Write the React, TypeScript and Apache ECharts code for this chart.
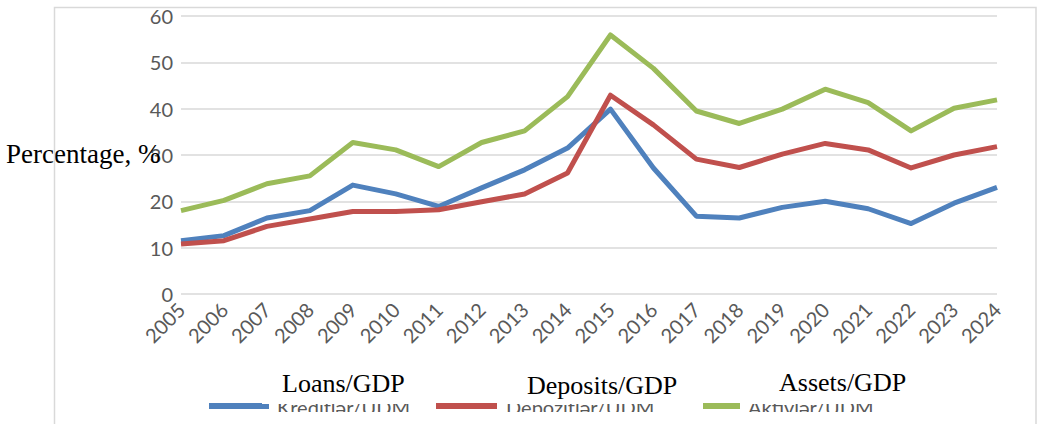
import React, { useEffect, useRef } from "react";
import * as echarts from "echarts";

const years = [
  "2005", "2006", "2007", "2008", "2009", "2010", "2011", "2012", "2013", "2014",
  "2015", "2016", "2017", "2018", "2019", "2020", "2021", "2022", "2023", "2024",
];
const loans = [11.5, 12.6, 16.4, 18.0, 23.5, 21.6, 18.9, 22.9, 26.8, 31.5, 39.9, 27.2, 16.8, 16.4, 18.7, 20.0, 18.4, 15.2, 19.6, 23.0];
const deposits = [10.8, 11.5, 14.6, 16.2, 17.8, 17.8, 18.2, 19.9, 21.6, 26.1, 42.9, 36.5, 29.1, 27.3, 30.2, 32.5, 31.1, 27.2, 30.0, 31.8];
const assets = [18.0, 20.2, 23.8, 25.5, 32.7, 31.1, 27.5, 32.7, 35.2, 42.6, 55.9, 48.7, 39.5, 36.8, 39.9, 44.2, 41.3, 35.2, 40.1, 41.9];

const seriesNames = ["Kreditlər/ÜDM", "Depozitlər/ÜDM", "Aktivlər/ÜDM"];
const englishNames = ["Loans/GDP", "Deposits/GDP", "Assets/GDP"];
const colors = ["#4F81BD", "#C0504D", "#9BBB59"];
const yAxisTitle = "Percentage, %";
const yMin = 0;
const yMax = 60;
const yStep = 10;

export default function App() {
  const ref = useRef<HTMLDivElement>(null);

  useEffect(() => {
    if (!ref.current) return;
    const chart = echarts.init(ref.current, null, { renderer: "svg" });
    const values = [loans, deposits, assets];

    const legendLines = [
      [209, 269],
      [436, 497],
      [703, 740],
    ];
    const legendTextX = [277, 506, 748];
    const boxes = [
      [262, 425],
      [500, 690],
      [744, 915],
    ];
    const englishX = [282, 527, 779];
    const englishY = [383, 385, 382];

    const graphic: any[] = [];
    seriesNames.forEach((n, i) => {
      graphic.push({
        type: "line",
        z: 10,
        shape: { x1: legendLines[i][0], y1: 406, x2: legendLines[i][1], y2: 406 },
        style: { stroke: colors[i], lineWidth: 6 },
      });
      graphic.push({
        type: "text",
        z: 10,
        x: legendTextX[i],
        y: 407,
        style: {
          text: n,
          fontSize: 20,
          fontFamily: "Lato",
          fill: "#595959",
          verticalAlign: "middle",
          align: "left",
        },
      });
      graphic.push({
        type: "rect",
        z: 20,
        shape: { x: boxes[i][0], y: 358, width: boxes[i][1] - boxes[i][0], height: 46 },
        style: { fill: "#ffffff" },
      });
      graphic.push({
        type: "text",
        z: 30,
        x: englishX[i],
        y: englishY[i],
        style: {
          text: englishNames[i],
          fontSize: 26,
          fontFamily: "Liberation Serif",
          fill: "#000000",
          verticalAlign: "middle",
          align: "left",
        },
      });
    });
    graphic.push({
      type: "rect",
      z: 20,
      shape: { x: 56, y: 412, width: 979, height: 14 },
      style: { fill: "#ffffff" },
    });
    graphic.push({
      type: "rect",
      z: 40,
      shape: { x: 54.5, y: 7.5, width: 981.5, height: 440 },
      style: { fill: "none", stroke: "#D9D9D9", lineWidth: 1.5 },
    });
    graphic.push({
      type: "text",
      z: 30,
      x: 6,
      y: 154,
      style: {
        text: yAxisTitle,
        fontSize: 27,
        fontFamily: "Liberation Serif",
        fill: "#000000",
        verticalAlign: "middle",
        align: "left",
      },
    });

    chart.setOption({
      animation: false,
      backgroundColor: "#ffffff",
      grid: { left: 181, right: 41, top: 16, bottom: 130, containLabel: false },
      xAxis: {
        type: "category",
        data: years,
        boundaryGap: false,
        axisLine: { show: false },
        axisTick: { show: false },
        axisLabel: {
          interval: 0,
          rotate: 45,
          margin: 12,
          fontSize: 20,
          fontFamily: "Lato",
          color: "#595959",
        },
      },
      yAxis: {
        type: "value",
        min: yMin,
        max: yMax,
        interval: yStep,
        axisLine: { show: false },
        axisTick: { show: false },
        axisLabel: { fontSize: 20, fontFamily: "Lato", color: "#595959", margin: 8 },
        splitLine: { lineStyle: { color: "#D9D9D9", width: 1.5 } },
      },
      series: seriesNames.map((n, i) => ({
        name: n,
        type: "line",
        data: values[i],
        symbol: "none",
        lineStyle: { color: colors[i], width: 5, join: "round" },
        itemStyle: { color: colors[i] },
      })),
      graphic,
    });

    return () => chart.dispose();
  }, []);

  return (
    <div
      ref={ref}
      style={{ position: "fixed", left: 0, top: 0, width: 1038, height: 424, background: "#fff" }}
    />
  );
}
